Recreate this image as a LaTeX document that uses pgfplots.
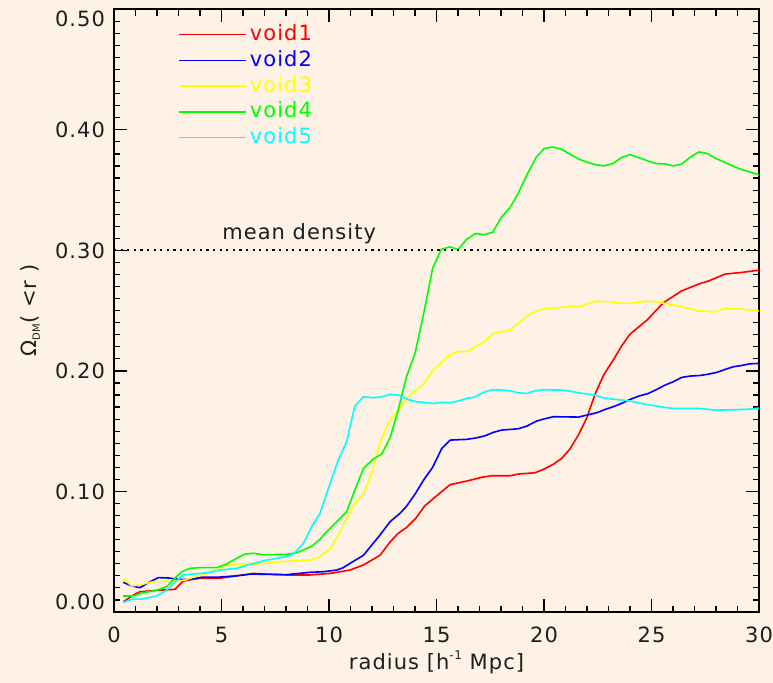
\documentclass[border=0pt]{standalone}
\usepackage{fontspec}
\setmainfont{DejaVu Sans}[LetterSpace=5]
\usepackage{pgfplots}
\pgfplotsset{compat=1.18}
\definecolor{bg}{RGB}{254,241,230}
\definecolor{txt}{RGB}{30,30,30}
\definecolor{cred}{RGB}{255,0,0}
\definecolor{cblue}{RGB}{0,0,255}
\definecolor{cyel}{RGB}{255,255,0}
\definecolor{cgreen}{RGB}{0,255,0}
\definecolor{ccyan}{RGB}{0,255,255}
\newcommand{\fs}{\fontsize{10.5}{12}\selectfont}
\begin{document}
\begin{tikzpicture}
\fill[bg] (-57pt,-35.5pt) rectangle (329.5pt,306pt);
\useasboundingbox (-57pt,-35.5pt) rectangle (329.5pt,306pt);
\begin{axis}[
  at={(0,0)}, anchor=south west,
  scale only axis, width=322.5pt, height=301.35pt,
  xmin=0, xmax=30, ymin=0, ymax=0.5,
  axis line style={black, line width=0.8pt},
  tick style={black, line width=0.6pt},
  tick align=inside,
  major tick length=6.5pt, minor tick length=3.2pt,
  xtick={0,5,10,15,20,25,30}, minor x tick num=4,
  ytick={0,0.1,0.2,0.3,0.4,0.5},
  yticklabels={,0.10,0.20,0.30,0.40,},
  minor y tick num=9,
  extra y ticks={0.008,0.492},
  extra y tick labels={0.00,0.50},
  extra y tick style={major tick length=0pt},
  every tick label/.append style={font=\fs, text=txt},
  /pgf/number format/assume math mode=true,
  xticklabel style={yshift=-4pt},
  yticklabel style={xshift=-1pt},
  xlabel={radius [h\raisebox{0.9ex}{\fontsize{6}{6}\selectfont -1} Mpc]},
  ylabel={Ω\raisebox{-0.3ex}{\fontsize{5}{5}\selectfont DM}( <r )},
  xlabel style={at={(axis description cs:0.5,-0.083)}, anchor=center, font=\fs, text=txt},
  ylabel style={at={(axis description cs:-0.13,0.5)}, anchor=center, font=\fs, text=txt},
  legend style={draw=none, fill=none, at={(axis description cs:0.0992,0.98)}, anchor=north west,
    font=\fs, row sep=0pt, inner sep=0pt, column sep=1.5pt,
    nodes={inner sep=0pt, text height=9.5pt, text depth=3.35pt}},
  legend cell align=left,
  legend image code/.code={\draw[#1, line width=0.8pt] (0pt,0pt) -- (33.5pt,0pt);},
]
\addplot[cred, line width=0.8pt] coordinates {
(0.43,0.0085) (1.0,0.015) (1.21,0.0168) (2.06,0.018) (2.84,0.0188) (3.22,0.0257) (4.0,0.028) (4.93,0.028) (6.0,0.0307) (6.48,0.032) (8.03,0.0307) (9.1,0.0307) (10.05,0.032) (10.98,0.0348) (11.6,0.039) (12.37,0.047) (12.84,0.058) (13.2,0.065) (13.6,0.070) (14.05,0.078) (14.45,0.088) (14.85,0.094) (15.24,0.0998) (15.63,0.1056) (16.4,0.1086) (17.18,0.112) (17.57,0.113) (18.42,0.113) (18.8,0.1144) (19.58,0.1155) (19.97,0.1183) (20.43,0.1225) (20.82,0.1274) (21.2,0.135) (21.6,0.1468) (21.99,0.161) (22.37,0.1805) (22.77,0.1965) (23.22,0.209) (23.61,0.2206) (24.0,0.2305) (24.78,0.242) (25.55,0.2565) (26.4,0.2664) (27.26,0.2725) (27.64,0.2745) (28.42,0.2803) (29.19,0.2817) (30,0.2836)
};
\addlegendentry{\textcolor{cred}{void1}}
\addplot[cblue, line width=0.8pt] coordinates {
(0.43,0.0246) (0.82,0.0216) (1.21,0.0202) (1.6,0.0243) (2.06,0.0285) (2.53,0.0282) (3.07,0.027) (3.53,0.027) (4.08,0.0288) (4.78,0.0288) (5.7,0.030) (6.4,0.0315) (7.1,0.0312) (8.03,0.031) (9.12,0.0329) (9.74,0.0334) (10.36,0.0348) (10.67,0.0368) (10.98,0.0404) (11.6,0.047) (12.37,0.0638) (12.84,0.0749) (13.3,0.0818) (13.6,0.0876) (14.0,0.0977) (14.42,0.11) (14.82,0.12) (15.24,0.1355) (15.63,0.1426) (16.4,0.1432) (16.87,0.1445) (17.26,0.1462) (17.64,0.149) (18.03,0.1509) (18.8,0.152) (19.2,0.1542) (19.66,0.1584) (19.97,0.16) (20.43,0.162) (21.6,0.1617) (21.99,0.1633) (22.45,0.1653) (22.84,0.168) (23.22,0.1703) (23.61,0.173) (24.0,0.1763) (24.39,0.179) (24.85,0.1813) (25.24,0.1846) (25.63,0.1882) (26.01,0.191) (26.4,0.1946) (26.79,0.1957) (27.26,0.1962) (27.64,0.1973) (28.03,0.1987) (28.42,0.2012) (28.8,0.2034) (29.19,0.2045) (29.58,0.2059) (30,0.2062)
};
\addlegendentry{\textcolor{cblue}{void2}}
\addplot[cyel, line width=0.8pt] coordinates {
(0.43,0.028) (0.82,0.0216) (1.21,0.0224) (1.67,0.0246) (2.14,0.0254) (2.76,0.0257) (3.3,0.0265) (3.77,0.0293) (4.47,0.0326) (5.24,0.039) (6.0,0.0398) (6.48,0.0395) (7.57,0.0415) (8.5,0.0425) (9.12,0.043) (9.58,0.0459) (10.05,0.0524) (10.43,0.0635) (10.82,0.0775) (11.2,0.090) (11.6,0.0984) (11.98,0.115) (12.37,0.14) (12.76,0.1565) (13.22,0.1675) (13.69,0.1785) (14.39,0.1892) (14.85,0.2007) (15.59,0.2131) (16.0,0.2162) (16.4,0.2158) (17.18,0.2238) (17.64,0.231) (18.42,0.2338) (18.8,0.2394) (19.27,0.2463) (19.66,0.2496) (20.05,0.2518) (20.82,0.2526) (21.2,0.2537) (21.63,0.2529) (22.06,0.256) (22.45,0.2579) (23.15,0.2573) (23.61,0.256) (24.0,0.256) (24.85,0.2579) (25.24,0.2573) (25.63,0.256) (26.4,0.2532) (27.18,0.2498) (27.95,0.249) (28.42,0.2518) (29.19,0.2512) (30,0.2498)
};
\addlegendentry{\textcolor{cyel}{void3}}
\addplot[cgreen, line width=0.8pt] coordinates {
(0.43,0.0133) (0.9,0.0133) (1.36,0.016) (1.98,0.018) (2.45,0.021) (2.84,0.028) (3.15,0.0334) (3.53,0.0362) (4.0,0.0368) (4.78,0.0368) (5.24,0.0398) (5.7,0.0445) (6.09,0.048) (6.48,0.0487) (6.94,0.0475) (8.03,0.0478) (8.5,0.0492) (9.2,0.0545) (9.58,0.0603) (9.81,0.065) (10.36,0.0749) (10.82,0.0832) (11.2,0.101) (11.6,0.119) (12.06,0.1269) (12.45,0.131) (12.84,0.1445) (13.22,0.1675) (13.6,0.195) (14.0,0.2145) (14.39,0.2463) (14.82,0.285) (15.22,0.3008) (15.62,0.3029) (16.01,0.3008) (16.4,0.3092) (16.82,0.314) (17.2,0.313) (17.62,0.315) (18.0,0.327) (18.42,0.3355) (18.8,0.3472) (19.2,0.3624) (19.63,0.377) (20.01,0.3845) (20.4,0.3858) (20.82,0.3839) (21.2,0.3798) (21.63,0.3756) (22.01,0.3731) (22.37,0.3712) (22.79,0.3701) (23.2,0.372) (23.61,0.377) (24.0,0.3795) (24.39,0.377) (24.78,0.3745) (25.21,0.372) (25.63,0.3717) (26.01,0.3701) (26.4,0.3715) (26.82,0.3775) (27.21,0.3817) (27.6,0.3803) (28.0,0.3762) (28.42,0.3729) (28.8,0.3698) (29.19,0.3671) (29.58,0.3651) (30,0.3626)
};
\addlegendentry{\textcolor{cgreen}{void4}}
\addplot[ccyan, line width=0.8pt] coordinates {
(0.43,0.008) (0.82,0.0105) (1.36,0.0108) (1.98,0.0133) (2.45,0.018) (2.84,0.0251) (3.22,0.0307) (4.0,0.032) (4.47,0.0329) (4.93,0.0348) (5.7,0.0362) (6.33,0.0395) (7.1,0.0431) (8.03,0.0459) (8.38,0.0487) (8.8,0.0567) (9.22,0.0715) (9.58,0.0818) (10.05,0.1067) (10.43,0.126) (10.82,0.1412) (11.2,0.1708) (11.6,0.1785) (12.06,0.1777) (12.45,0.1785) (12.84,0.1805) (13.22,0.18) (13.69,0.1761) (14.08,0.1744) (14.85,0.173) (15.24,0.1739) (15.63,0.1736) (16.01,0.175) (16.4,0.1772) (16.79,0.1783) (17.18,0.1822) (17.57,0.1843) (18.03,0.1841) (18.42,0.1835) (18.8,0.1818) (19.2,0.1813) (19.58,0.1835) (19.97,0.1843) (20.82,0.1841) (21.2,0.1833) (21.6,0.1818) (22.37,0.18) (22.76,0.1777) (23.15,0.1766) (23.53,0.176) (24.0,0.175) (24.39,0.1736) (24.85,0.1719) (25.24,0.1708) (25.63,0.1697) (26.01,0.1689) (27.18,0.1689) (27.95,0.1675) (28.8,0.1677) (29.58,0.1683) (30,0.1692)
};
\addlegendentry{\textcolor{ccyan}{void5}}
\addplot[black, line width=1.1pt, dash pattern=on 1.1pt off 2.2pt, forget plot] coordinates {(0,0.3) (30,0.3)};
\node[anchor=base west, inner sep=0pt, font=\fs, text=txt] at (axis cs:5.02,0.309) {mean density};
\end{axis}
\end{tikzpicture}
\end{document}
